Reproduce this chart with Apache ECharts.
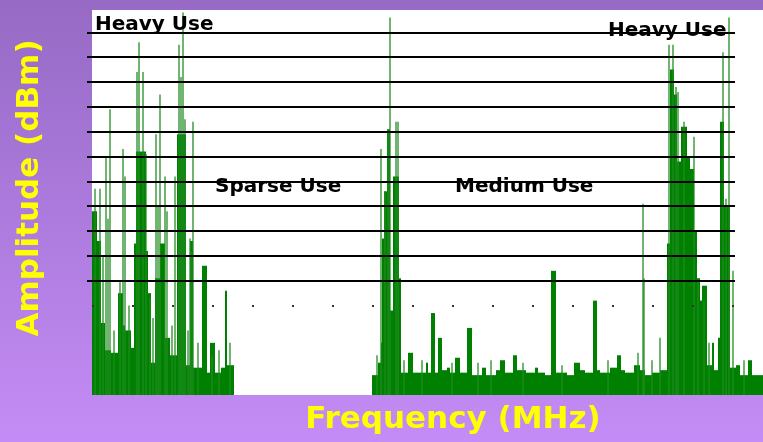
<!DOCTYPE html>
<html>
<head>
<meta charset="utf-8">
<script src="https://cdn.jsdelivr.net/npm/echarts@6/dist/echarts.min.js"></script>
<style>
  html, body { margin: 0; padding: 0; }
  #chart { width: 763px; height: 442px; }
</style>
</head>
<body>
<div id="chart"></div>
<script>
// frequency bins run 0..671, amplitude in grid steps of 10 (0 = noise reference line)
var freqMin = -5;
var freqMax = 671;
var ampMin = -36;
var ampMax = 119;

// dense spectrum: [freqStart, freqEnd, amplitude]
var floorBands = [
    [0, 5, 38], [5, 9, 26], [9, 13, -7], [13, 19, -18], [19, 26, -19],
    [26, 31, 5], [31, 33, -8], [33, 39, -10], [39, 42, -17], [42, 44, 25],
    [44, 54, 62], [54, 56, 22], [56, 59, 5], [59, 63, -23], [63, 68, 11],
    [68, 73, 25], [73, 78, -13], [78, 85, -20], [85, 94, 69], [94, 98, -24],
    [98, 101, 26], [101, 110, -25], [110, 115, 16], [115, 118, -27], [118, 123, -15],
    [123, 129, -27], [129, 133, -25], [133, 135, 6], [135, 142, -24],
    [280, 286, -28], [286, 289, -23], [289, 290, -15], [290, 292, 27], [292, 295, 46],
    [295, 298, 71], [298, 301, -2], [301, 303, 52], [303, 307, 52], [307, 309, 11],
    [309, 316, -27], [316, 321, -19], [321, 334, -27], [334, 336, -23], [336, 339, -27],
    [339, 343, -3], [343, 346, -27], [346, 350, -13], [350, 355, -26], [355, 358, -25],
    [358, 363, -27], [363, 368, -21], [368, 375, -27], [375, 380, -9], [380, 390, -28],
    [390, 394, -25], [394, 404, -28], [404, 408, -26], [408, 413, -22], [413, 421, -27],
    [421, 425, -20], [425, 434, -26], [434, 443, -27], [443, 446, -25], [446, 453, -27],
    [453, 459, -28], [459, 464, 14], [464, 475, -27], [475, 482, -28], [482, 488, -23],
    [488, 493, -26], [493, 501, -27], [501, 505, 2], [505, 508, -26], [508, 518, -27],
    [518, 525, -25], [525, 529, -20], [529, 533, -26], [533, 542, -27], [542, 548, -24],
    [548, 553, -26], [553, 560, -28], [560, 568, -27], [568, 575, -26], [575, 578, 25],
    [578, 582, 95], [582, 585, 85], [585, 589, 58], [589, 595, 72], [595, 598, 60],
    [598, 602, 55], [602, 605, 30], [605, 608, 11], [608, 610, 2], [610, 615, 8],
    [615, 620, -24], [620, 622, -15], [622, 626, -26], [626, 628, -13], [628, 632, 74],
    [632, 638, 40], [638, 644, -25], [644, 648, -24], [648, 656, -28], [656, 660, -22],
    [660, 671, -28]
];

// narrow peaks: [freq, amplitude]
var spikes = [
    [3, 47], [8, 47], [11, 20], [14, 60], [16, 35], [18, 79], [22, -10], [28, 10],
    [31, 63], [33, 52], [37, 0], [45, 94], [47, 106], [51, 94], [54, 61], [58, 3],
    [61, -5], [64, 69], [66, 40], [68, 85], [73, 52], [75, 38], [80, -8], [83, 52],
    [87, 105], [89, 92], [91, 118], [93, 75], [96, -10], [98, 27], [99, 22], [101, 74],
    [106, -15], [120, -20], [127, -18], [138, -15],
    [285, -20], [289, 63], [293, 46], [296, 71], [298, 116], [304, 74], [306, 74],
    [312, -22], [330, -22], [360, -23], [386, -23], [399, -22], [431, -23], [470, -24],
    [516, -22], [546, -19], [551, 41], [552, 11], [560, -22], [568, -13],
    [577, 105], [581, 105], [584, 88], [586, 86], [592, 74], [602, 68], [606, 11],
    [612, 2], [617, -15], [631, 102], [634, 43], [637, 116], [641, 14], [652, -22]
];

var gridLevels = [10, 20, 30, 40, 50, 60, 70, 80, 90, 100, 110];
var noiseLevel = 0;
var gridLineEnd = 643;

var yTitle = 'Amplitude (dBm)';
var xTitle = 'Frequency (MHz)';
var regionLabels = ['Heavy Use', 'Sparse Use', 'Medium Use', 'Heavy Use'];

var myChart = echarts.init(document.getElementById('chart'));

function renderBand(params, api) {
    var p0 = api.coord([api.value(0), api.value(2)]);
    var p1 = api.coord([api.value(1), ampMin]);
    return {
        type: 'rect',
        shape: { x: p0[0], y: p0[1], width: p1[0] - p0[0], height: p1[1] - p0[1] },
        style: { fill: '#008000' }
    };
}

function renderSpike(params, api) {
    var top = api.coord([api.value(0), api.value(1)]);
    var base = api.coord([api.value(0), ampMin]);
    return {
        type: 'rect',
        shape: { x: top[0] - 0.8, y: top[1], width: 1.6, height: base[1] - top[1] },
        style: { fill: 'rgba(30,140,30,0.8)' }
    };
}

var solidLines = gridLevels.map(function (v) {
    return [{ coord: [freqMin, v] }, { coord: [gridLineEnd, v] }];
});

var labelFont = 'bold 20px "DejaVu Sans", sans-serif';
var titleFont = 'bold 31px "DejaVu Sans", sans-serif';

var option = {
    backgroundColor: new echarts.graphic.LinearGradient(0, 0, 0, 1, [
        { offset: 0, color: '#966ac5' },
        { offset: 1, color: '#c48cf6' }
    ]),
    animation: false,
    grid: { left: 87, right: 0, top: 10, bottom: 47 },
    xAxis: {
        type: 'value', min: freqMin, max: freqMax,
        axisLine: { show: false }, axisTick: { show: false },
        axisLabel: { show: false }, splitLine: { show: false }
    },
    yAxis: {
        type: 'value', min: ampMin, max: ampMax,
        axisLine: { show: false }, axisTick: { show: false },
        axisLabel: { show: false }, splitLine: { show: false }
    },
    series: [
        {
            // white plot area
            type: 'line', data: [], z: 0, silent: true,
            markArea: {
                silent: true,
                itemStyle: { color: '#ffffff' },
                data: [[{ coord: [0, ampMax] }, { coord: [freqMax, ampMin] }]]
            }
        },
        {
            type: 'custom', z: 2, renderItem: renderBand,
            encode: { x: [0, 1], y: 2 }, data: floorBands, silent: true
        },
        {
            type: 'custom', z: 3, renderItem: renderSpike,
            encode: { x: 0, y: 1 }, data: spikes, silent: true
        },
        {
            type: 'line', data: [], z: 5, silent: true,
            markLine: {
                silent: true, symbol: 'none', label: { show: false },
                lineStyle: { color: '#000', width: 2, type: 'solid' },
                data: solidLines.concat([[
                    { coord: [0, noiseLevel], lineStyle: { color: '#333', width: 2, type: [2, 38] } },
                    { coord: [gridLineEnd, noiseLevel] }
                ]])
            }
        }
    ],
    graphic: [
        { type: 'text', left: 95, top: 15, z: 10, style: { text: regionLabels[0], font: labelFont, fill: '#000' } },
        { type: 'text', left: 215, top: 177, z: 10, style: { text: regionLabels[1], font: labelFont, fill: '#000' } },
        { type: 'text', left: 455, top: 177, z: 10, style: { text: regionLabels[2], font: labelFont, fill: '#000' } },
        { type: 'text', left: 608, top: 21, z: 10, style: { text: regionLabels[3], font: labelFont, fill: '#000' } },
        {
            type: 'text', z: 10, x: 30, y: 188, rotation: Math.PI / 2,
            style: { text: yTitle, font: titleFont, fill: '#ffff00', align: 'center', verticalAlign: 'middle' }
        },
        {
            type: 'text', z: 10, x: 453, y: 420,
            style: { text: xTitle, font: titleFont, fill: '#ffff00', align: 'center', verticalAlign: 'middle' }
        }
    ]
};
myChart.setOption(option);
</script>
</body>
</html>
